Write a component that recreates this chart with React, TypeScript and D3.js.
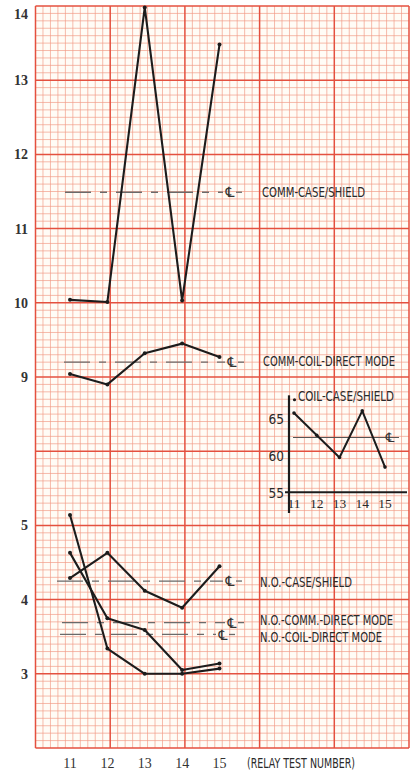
import React, { useLayoutEffect, useRef, useState } from "react";
import * as d3 from "d3";

// ---------- data ----------
const testNumbers = [11, 12, 13, 14, 15];
const upperTicks = [9, 10, 11, 12, 13, 14];
const lowerTicks = [3, 4, 5];
const insetYTicks = [55, 60, 65];

const commCaseShield = [10.04, 10.01, 13.98, 10.03, 13.48];
const commCaseShieldRef = 11.49;
const commCoilDirect = [9.04, 8.9, 9.32, 9.45, 9.27];
const commCoilDirectRef = 9.2;

const noCaseShield = [4.29, 4.63, 4.12, 3.89, 4.45];
const noCaseShieldRef = 4.25;
const noCommDirect = [4.63, 3.75, 3.59, 3.05, 3.14];
const noCommDirectRef = 3.69;
const noCoilDirect = [5.14, 3.34, 3.0, 3.0, 3.07];
const noCoilDirectRef = 3.53;

const coilCaseShield = [65.8, 62.8, 59.8, 66.1, 58.5];
const coilCaseShieldRef = 62.5;

const seriesLabels = [
  "COMM-CASE/SHIELD",
  "COMM-COIL-DIRECT MODE",
  "N.O.-CASE/SHIELD",
  "N.O.-COMM.-DIRECT MODE",
  "N.O.-COIL-DIRECT MODE",
];
const insetTitle = "COIL-CASE/SHIELD";
const xAxisTitle = "(RELAY TEST NUMBER)";

// ---------- layout ----------
const W = 414;
const H = 773;
const G = { left: 35.5, top: 6, colW: 74.7, rowH: 74.2, cols: 5, rows: 10 };
const SERIF = "'Liberation Serif', 'DejaVu Serif', serif";
const NARROW =
  "'Liberation Sans Narrow', 'DejaVu Sans Condensed', 'Roboto Condensed', 'Liberation Sans', sans-serif";
const CL = "\u2104";
const INK = "#1c1c1c";

const row = (k: number) => G.top + k * G.rowH;
const col = (k: number) => G.left + k * G.colW;

const x = d3.scaleLinear().domain([11, 15]).range([70, 219.5]);
const yU = d3.scaleLinear().domain([9, 14]).range([row(5), row(0)]);
const yL = d3.scaleLinear().domain([3, 5]).range([row(9), row(7)]);

const ix = d3.scaleLinear().domain([11, 15]).range([294, 385]);
const iy = d3.scaleLinear().domain([55, 65]).range([493, 419]);

function Series({ values, y }: { values: number[]; y: d3.ScaleLinear<number, number> }) {
  const line = d3
    .line<number>()
    .x((_, i) => x(testNumbers[i]))
    .y((d) => y(d));
  return (
    <g>
      <path d={line(values) || ""} fill="none" stroke={INK} strokeWidth={2.1} strokeLinejoin="round" />
      {values.map((v, i) => (
        <circle key={i} cx={x(testNumbers[i])} cy={y(v)} r={2} fill={INK} />
      ))}
    </g>
  );
}

function RefLine({
  value,
  y,
  startOffset,
  clX,
}: {
  value: number;
  y: d3.ScaleLinear<number, number>;
  startOffset: number;
  clX: number;
}) {
  const yy = y(value);
  return (
    <g>
      <line
        x1={x(11) + startOffset}
        x2={clX - 7}
        y1={yy}
        y2={yy}
        stroke="#6a6a6a"
        strokeWidth={1.3}
        strokeDasharray="26 9 7 9"
      />
      <line x1={clX + 6} x2={clX + 12} y1={yy} y2={yy} stroke="#6a6a6a" strokeWidth={1.3} />
      <text
        x={clX}
        y={yy}
        dy="0.36em"
        textAnchor="middle"
        fontFamily="'DejaVu Sans', sans-serif"
        fontSize={14}
        fill="#333"
      >
        {CL}
      </text>
    </g>
  );
}

function Grid() {
  const vLines = d3.range(0, G.cols * 10 + 1);
  const hLines = d3.range(0, G.rows * 10 + 1);
  return (
    <g>
      <rect x={col(0)} y={row(0)} width={G.cols * G.colW} height={G.rows * G.rowH} fill="#fffcf6" />
      {vLines
        .filter((i) => i % 10 !== 0)
        .map((i) => (
          <line
            key={"v" + i}
            x1={G.left + (i * G.colW) / 10}
            x2={G.left + (i * G.colW) / 10}
            y1={row(0)}
            y2={row(G.rows)}
            stroke="#f19a85"
            strokeOpacity={0.8}
            strokeWidth={0.85}
          />
        ))}
      {hLines
        .filter((i) => i % 10 !== 0)
        .map((i) => (
          <line
            key={"h" + i}
            x1={col(0)}
            x2={col(G.cols)}
            y1={G.top + (i * G.rowH) / 10}
            y2={G.top + (i * G.rowH) / 10}
            stroke="#f19a85"
            strokeOpacity={0.8}
            strokeWidth={0.85}
          />
        ))}
      {d3.range(0, G.cols + 1).map((i) => (
        <line key={"V" + i} x1={col(i)} x2={col(i)} y1={row(0)} y2={row(G.rows)} stroke="#e4503f" strokeWidth={1.5} />
      ))}
      {d3.range(0, G.rows + 1).map((i) => (
        <line key={"H" + i} x1={col(0)} x2={col(G.cols)} y1={row(i)} y2={row(i)} stroke="#e4503f" strokeWidth={1.5} />
      ))}
    </g>
  );
}

function Label({ text, x0, y0, len }: { text: string; x0: number; y0: number; len: number }) {
  const ref = useRef<SVGTextElement>(null);
  const [sx, setSx] = useState(0.8);
  useLayoutEffect(() => {
    if (ref.current) {
      const natural = ref.current.getComputedTextLength();
      if (natural > 0) setSx(len / natural);
    }
  }, [text, len]);
  return (
    <g transform={`translate(${x0},${y0}) scale(${sx},1)`}>
      <text ref={ref} x={0} y={0} dy="0.36em" fontFamily={NARROW} fontSize={13.5} fill="#2a2a2a">
        {text}
      </text>
    </g>
  );
}

function Inset() {
  const line = d3
    .line<number>()
    .x((_, i) => ix(testNumbers[i]))
    .y((d) => iy(d));
  const axX = ix(11) - 5;
  return (
    <g>
      <line x1={axX} x2={axX} y1={iy(68.2)} y2={iy(52.3)} stroke={INK} strokeWidth={2.2} />
      <line x1={axX - 4} x2={407} y1={iy(55.1)} y2={iy(55.1)} stroke={INK} strokeWidth={2.2} />
      <line
        x1={ix(11) - 1}
        x2={ix(15) + 14}
        y1={iy(coilCaseShieldRef)}
        y2={iy(coilCaseShieldRef)}
        stroke="#555"
        strokeWidth={1}
      />
      <text
        x={ix(15) + 5}
        y={iy(coilCaseShieldRef)}
        dy="0.36em"
        textAnchor="middle"
        fontFamily="'DejaVu Sans', sans-serif"
        fontSize={13}
        fill="#333"
      >
        {CL}
      </text>
      <path d={line(coilCaseShield) || ""} fill="none" stroke={INK} strokeWidth={2} strokeLinejoin="round" />
      {coilCaseShield.map((v, i) => (
        <circle key={i} cx={ix(testNumbers[i])} cy={iy(v)} r={1.8} fill={INK} />
      ))}
      <circle cx={ix(11) + 0.5} cy={iy(67.6)} r={1.6} fill={INK} />
      <Label text={insetTitle} x0={ix(11) + 4} y0={iy(68.1)} len={96} />
      {insetYTicks.map((t) => (
        <text
          key={t}
          x={axX - 5}
          y={iy(t)}
          dy="0.36em"
          textAnchor="end"
          fontFamily={NARROW}
          fontSize={13.5}
          fill="#2a2a2a"
        >
          {t}
        </text>
      ))}
      {testNumbers.map((t) => (
        <text
          key={t}
          x={ix(t)}
          y={iy(55) + 10}
          dy="0.36em"
          textAnchor="middle"
          fontFamily={SERIF}
          fontSize={13.5}
          fill="#2a2a2a"
        >
          {t}
        </text>
      ))}
    </g>
  );
}

export default function App() {
  const yLabelX = 28;
  return (
    <svg
      width={W}
      height={H}
      viewBox={`0 0 ${W} ${H}`}
      style={{ position: "fixed", left: 0, top: 0, background: "#ffffff" }}
    >
      <Grid />

      {/* y axis labels */}
      {upperTicks.map((t) => (
        <text
          key={"u" + t}
          x={yLabelX}
          y={yU(t) + (t === 14 ? 8 : 0)}
          dy="0.36em"
          textAnchor="end"
          fontFamily={SERIF}
          fontWeight={600}
          fontSize={14}
          fill="#333"
        >
          {t}
        </text>
      ))}
      {lowerTicks.map((t) => (
        <text
          key={"l" + t}
          x={yLabelX}
          y={yL(t)}
          dy="0.36em"
          textAnchor="end"
          fontFamily={SERIF}
          fontWeight={600}
          fontSize={14}
          fill="#333"
        >
          {t}
        </text>
      ))}

      {/* x axis labels */}
      {testNumbers.map((t) => (
        <text
          key={"x" + t}
          x={x(t)}
          y={763}
          dy="0.36em"
          textAnchor="middle"
          fontFamily={SERIF}
          fontSize={14}
          fill="#333"
        >
          {t}
        </text>
      ))}
      <Label text={xAxisTitle} x0={247} y0={763} len={108} />

      {/* reference (centre) lines */}
      <RefLine value={commCaseShieldRef} y={yU} startOffset={-5} clX={230} />
      <RefLine value={commCoilDirectRef} y={yU} startOffset={-6} clX={232} />
      <RefLine value={noCaseShieldRef} y={yL} startOffset={-13} clX={230} />
      <RefLine value={noCommDirectRef} y={yL} startOffset={-8} clX={232} />
      <RefLine value={noCoilDirectRef} y={yL} startOffset={-10} clX={223} />

      {/* series */}
      <Series values={commCaseShield} y={yU} />
      <Series values={commCoilDirect} y={yU} />
      <Series values={noCaseShield} y={yL} />
      <Series values={noCommDirect} y={yL} />
      <Series values={noCoilDirect} y={yL} />

      {/* series labels */}
      <Label text={seriesLabels[0]} x0={262} y0={yU(commCaseShieldRef)} len={103} />
      <Label text={seriesLabels[1]} x0={263} y0={yU(commCoilDirectRef) - 1} len={132} />
      <Label text={seriesLabels[2]} x0={260} y0={yL(noCaseShieldRef) + 1} len={92} />
      <Label text={seriesLabels[3]} x0={260} y0={yL(noCommDirectRef) - 2} len={133} />
      <Label text={seriesLabels[4]} x0={260} y0={yL(noCoilDirectRef) + 3} len={122} />

      <Inset />
    </svg>
  );
}
